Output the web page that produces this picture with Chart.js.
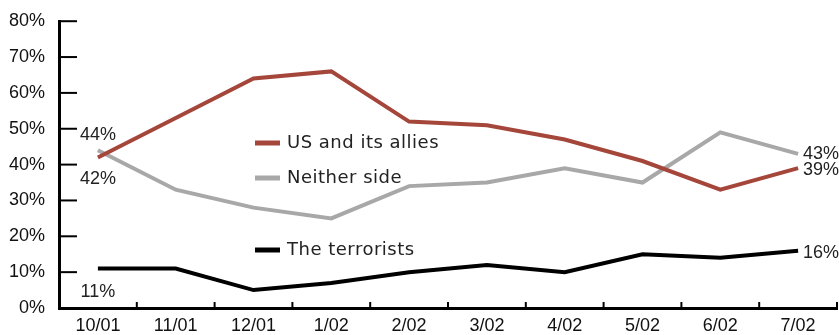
<!DOCTYPE html>
<html>
<head>
<meta charset="utf-8">
<script src="https://cdn.jsdelivr.net/npm/chart.js@4/dist/chart.umd.min.js"></script>
<style>
  html, body { margin: 0; padding: 0; background: #fff; }
  #wrap { width: 839px; height: 335px; }
</style>
</head>
<body>
<div id="wrap"><canvas id="sideChart" width="839" height="335"></canvas></div>
<script>
const months = ['10/01', '11/01', '12/01', '1/02', '2/02', '3/02', '4/02', '5/02', '6/02', '7/02'];
const usAllies = [42, 53, 64, 66, 52, 51, 47, 41, 33, 39];
const neitherSide = [44, 33, 28, 25, 34, 35, 39, 35, 49, 43];
const terrorists = [11, 11, 5, 7, 10, 12, 10, 15, 14, 16];
const yTicks = [0, 10, 20, 30, 40, 50, 60, 70, 80];

const FONT = "Arial, 'Liberation Sans', Helvetica, sans-serif";

// tick marks point inward, like the original
const innerTicks = {
  id: 'innerTicks',
  afterDraw(chart) {
    const c = chart.ctx;
    const x = chart.scales.x, y = chart.scales.y;
    c.save();
    c.strokeStyle = '#000';
    c.lineWidth = 2;
    yTicks.forEach(v => {
      const py = y.getPixelForValue(v);
      c.beginPath();
      c.moveTo(x.left, py);
      c.lineTo(x.left + 18, py);
      c.stroke();
    });
    for (let i = 0; i < months.length; i++) {
      const px = x.getPixelForValue(i) + (x.getPixelForValue(1) - x.getPixelForValue(0)) / 2;
      c.beginPath();
      c.moveTo(px, y.bottom);
      c.lineTo(px, y.bottom - 6);
      c.stroke();
    }
    c.restore();
  }
};

// legend sitting inside the plot
const innerLegend = {
  id: 'innerLegend',
  afterDraw(chart) {
    const c = chart.ctx;
    const rows = [[0, 143], [1, 178], [2, 250]];
    c.save();
    c.font = "18px 'DejaVu Sans', sans-serif";
    c.letterSpacing = '0.5px';
    c.textBaseline = 'middle';
    rows.forEach(([i, ly]) => {
      const ds = chart.data.datasets[i];
      c.strokeStyle = ds.borderColor;
      c.lineWidth = 5;
      c.beginPath();
      c.moveTo(255, ly);
      c.lineTo(280, ly);
      c.stroke();
      c.fillStyle = '#222';
      c.fillText(ds.label, 287, ly);
    });
    c.restore();
  }
};

// percentage labels at first and last points
const endLabels = {
  id: 'endLabels',
  afterDatasetsDraw(chart) {
    const c = chart.ctx;
    const first = [[1, 0, -15], [0, 0, 22], [2, 0, 23]];
    const last = [[1, 0], [0, 2], [2, 2]];
    c.save();
    c.font = '18px ' + FONT;
    c.fillStyle = '#222';
    c.textBaseline = 'middle';
    c.textAlign = 'center';
    first.forEach(([d, idx, dy]) => {
      const pt = chart.getDatasetMeta(d).data[idx];
      c.fillText(chart.data.datasets[d].data[idx] + '%', pt.x, pt.y + dy);
    });
    c.textAlign = 'left';
    const n = months.length - 1;
    last.forEach(([d, dy]) => {
      const pt = chart.getDatasetMeta(d).data[n];
      c.fillText(chart.data.datasets[d].data[n] + '%', pt.x + 5, pt.y + dy);
    });
    c.restore();
  }
};

const ctx = document.getElementById('sideChart');
new Chart(ctx.getContext('2d'), {
  type: 'line',
  data: {
    labels: months,
    datasets: [
      { label: 'US and its allies', data: usAllies, borderColor: '#a5463b', borderWidth: 4, pointRadius: 0, tension: 0 },
      { label: 'Neither side', data: neitherSide, borderColor: '#a8a8a8', borderWidth: 4, pointRadius: 0, tension: 0 },
      { label: 'The terrorists', data: terrorists, borderColor: '#000000', borderWidth: 4, pointRadius: 0, tension: 0 }
    ]
  },
  options: {
    responsive: false,
    animation: false,
    layout: { padding: { top: 0, right: 2, left: 0, bottom: 0 } },
    plugins: {
      legend: { display: false },
      tooltip: { enabled: false }
    },
    scales: {
      x: {
        offset: true,
        grid: { display: false, drawTicks: false },
        border: { display: true, color: '#000', width: 3 },
        ticks: { color: '#111', font: { family: FONT, size: 18 }, padding: 7, maxRotation: 0 },
        afterFit(scale) { scale.height = 27; }
      },
      y: {
        min: 0,
        max: 80,
        grid: { display: false, drawTicks: false },
        border: { display: true, color: '#000', width: 3 },
        ticks: { stepSize: 10, color: '#111', font: { family: FONT, size: 18, lineHeight: 0.8 }, padding: 14, callback: v => v + '%' },
        afterFit(scale) { scale.width = 59; }
      }
    }
  },
  plugins: [innerTicks, innerLegend, endLabels]
});
</script>
</body>
</html>
